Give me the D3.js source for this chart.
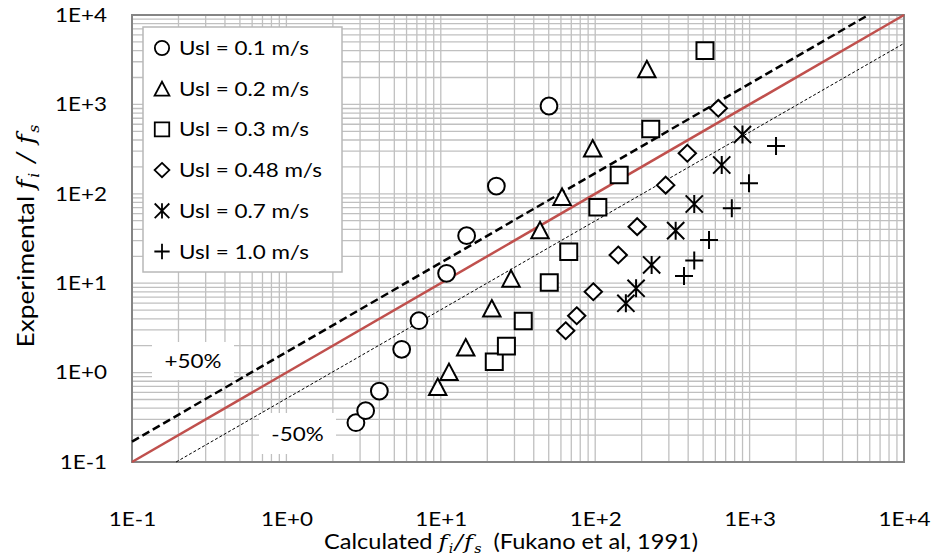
<!DOCTYPE html>
<html>
<head>
<meta charset="utf-8">
<script src="https://cdn.jsdelivr.net/npm/d3@7"></script>
<style>
  body { margin: 0; background: #fff; }
  text { font-family: Lato, "Open Sans", sans-serif; fill: #000; }
</style>
</head>
<body>
<script>
// Series values: [calculated, experimental]
var usl01 = [[2.82, 0.275], [3.26, 0.375], [4.0, 0.622], [5.58, 1.82], [7.22, 3.81],
             [10.9, 12.9], [14.7, 34.0], [22.9, 122], [50.2, 960]];
var usl02 = [[9.55, 0.695], [11.3, 1.02], [14.5, 1.92], [21.4, 5.24], [28.5, 11.3],
             [43.9, 39.4], [61.0, 92.8], [96.3, 323], [216, 2490]];
var usl03 = [[22.2, 1.32], [26.6, 1.98], [34.2, 3.78], [50.4, 10.2], [67.4, 22.5],
             [104, 70.6], [143, 162], [229, 531], [514, 3990]];
var usl048 = [[64.4, 2.94], [75.9, 4.33], [97.2, 8.03], [141, 20.7], [187, 42.9],
              [286, 125], [395, 284], [627, 904]];
var usl07 = [[158, 5.96], [184, 8.77], [232, 16.0], [332, 38.7], [438, 76.9],
             [660, 210], [899, 460]];
var usl10 = [[376, 12.0], [438, 17.9], [546, 30.4], [767, 68.9], [991, 131], [1483, 342]];

var seriesNames = ['Usl = 0.1 m/s', 'Usl = 0.2 m/s', 'Usl = 0.3 m/s',
                   'Usl = 0.48 m/s', 'Usl = 0.7 m/s', 'Usl = 1.0 m/s'];
var seriesData = [usl01, usl02, usl03, usl048, usl07, usl10];
var seriesSymbols = ['circle', 'triangle', 'square', 'diamond', 'asterisk', 'plus'];

// Reference lines (y = x and the +/-50% bands)
var equalLine = [[0.1, 0.1], [10000, 10000]];
var plusLine = [[0.1, 0.169], [5870, 10000]];
var minusLine = [[0.193, 0.1], [10000, 4820]];

var axisDomain = [0.1, 10000];
var majorTicks = [0.1, 1, 10, 100, 1000, 10000];

// Layout
var W = 931, H = 558;
var plot = {left: 132, right: 904, top: 15, bottom: 462};
var SX = 1.15; // text is drawn a bit wide, as in the picture

var svg = d3.select('body').append('svg')
    .attr('width', W).attr('height', H);

var x = d3.scaleLog().domain(axisDomain).range([plot.left, plot.right]);
var y = d3.scaleLog().domain(axisDomain).range([plot.bottom, plot.top]);

// All grid values: 1..9 in every decade
var gridVals = [];
majorTicks.slice(0, -1).forEach(function(d) {
    for (var k = 1; k < 10; k++) gridVals.push(d * k);
});
gridVals.push(10000);

var grid = svg.append('g').attr('stroke', '#c0c0c0').attr('stroke-width', 1.3);
grid.selectAll('.gx').data(gridVals).enter().append('line')
    .attr('x1', function(d) { return x(d); }).attr('x2', function(d) { return x(d); })
    .attr('y1', plot.top).attr('y2', plot.bottom);
grid.selectAll('.gy').data(gridVals).enter().append('line')
    .attr('y1', function(d) { return y(d); }).attr('y2', function(d) { return y(d); })
    .attr('x1', plot.left).attr('x2', plot.right);

// Plot border
svg.append('rect')
    .attr('x', plot.left).attr('y', plot.top)
    .attr('width', plot.right - plot.left).attr('height', plot.bottom - plot.top)
    .attr('fill', 'none').attr('stroke', '#858585').attr('stroke-width', 2);

// Axes labels
function fmt(d) {
    var e = Math.round(Math.log10(d));
    return '1E' + (e < 0 ? '-' : '+') + Math.abs(e);
}

var xAxis = d3.axisBottom(x).tickValues(majorTicks).tickFormat(fmt)
    .tickSize(0).tickPadding(50);
var yAxis = d3.axisLeft(y).tickValues(majorTicks).tickFormat(fmt)
    .tickSize(0).tickPadding(25 / SX);

svg.append('g').attr('transform', 'translate(0,' + plot.bottom + ')').call(xAxis)
    .call(function(g) { g.select('.domain').remove(); });
svg.append('g').attr('transform', 'translate(' + plot.left + ',0)').call(yAxis)
    .call(function(g) { g.select('.domain').remove(); });

svg.selectAll('.tick text')
    .attr('font-family', 'Lato, sans-serif')
    .attr('font-size', 19.5)
    .attr('fill', '#000')
    .attr('transform', 'scale(' + SX + ',1)');

// +/-50% label boxes
var labelBoxes = [
    {text: '+50%', x: 152, y: 342, w: 82, h: 38},
    {text: '-50%', x: 259, y: 413, w: 77, h: 41}
];
labelBoxes.forEach(function(b) {
    svg.append('rect').attr('x', b.x).attr('y', b.y).attr('width', b.w).attr('height', b.h)
        .attr('fill', '#fff');
});

// Reference lines
var line = d3.line()
    .x(function(d) { return x(d[0]); })
    .y(function(d) { return y(d[1]); });

svg.append('path').datum(plusLine).attr('d', line)
    .attr('fill', 'none').attr('stroke', '#000').attr('stroke-width', 2.5)
    .attr('stroke-dasharray', '8,4');
svg.append('path').datum(minusLine).attr('d', line)
    .attr('fill', 'none').attr('stroke', '#000').attr('stroke-width', 1)
    .attr('stroke-dasharray', '3,2');
svg.append('path').datum(equalLine).attr('d', line)
    .attr('fill', 'none').attr('stroke', '#c0504d').attr('stroke-width', 2.5);

labelBoxes.forEach(function(b) {
    svg.append('text')
        .attr('transform', 'translate(' + (b.x + b.w / 2) + ',' + (b.y + b.h / 2) + ') scale(' + SX + ',1)')
        .attr('text-anchor', 'middle').attr('dy', '0.36em')
        .attr('font-size', 19.5)
        .text(b.text);
});

// Marker shapes
function symbolPath(type, s) {
    var p = d3.path();
    if (type === 'circle') {
        p.arc(0, 0, 8.4 * s, 0, 2 * Math.PI);
    } else if (type === 'triangle') {
        p.moveTo(0, -8.2 * s); p.lineTo(8.7 * s, 8.2 * s); p.lineTo(-8.7 * s, 8.2 * s); p.closePath();
    } else if (type === 'square') {
        p.rect(-8.5 * s, -8.3 * s, 17 * s, 16.6 * s);
    } else if (type === 'diamond') {
        p.moveTo(0, -8.4 * s); p.lineTo(8.7 * s, 0); p.lineTo(0, 8.4 * s); p.lineTo(-8.7 * s, 0); p.closePath();
    } else if (type === 'asterisk') {
        p.moveTo(0, -9 * s); p.lineTo(0, 9 * s);
        p.moveTo(-8.6 * s, -8.6 * s); p.lineTo(8.6 * s, 8.6 * s);
        p.moveTo(-8.6 * s, 8.6 * s); p.lineTo(8.6 * s, -8.6 * s);
    } else if (type === 'plus') {
        p.moveTo(-9 * s, 0); p.lineTo(9 * s, 0);
        p.moveTo(0, -9 * s); p.lineTo(0, 9 * s);
    }
    return p.toString();
}

seriesData.forEach(function(data, i) {
    svg.append('g').selectAll('path')
        .data(data)
        .enter()
        .append('path')
        .attr('transform', function(d) { return 'translate(' + x(d[0]) + ',' + y(d[1]) + ')'; })
        .attr('d', symbolPath(seriesSymbols[i], 1))
        .attr('fill', '#fff')
        .attr('stroke', '#000')
        .attr('stroke-width', 2);
});

// Legend
var legend = svg.append('g');
legend.append('rect')
    .attr('x', 143).attr('y', 27).attr('width', 199).attr('height', 245)
    .attr('fill', '#fff').attr('stroke', '#b8b8b8').attr('stroke-width', 1.5);

var items = legend.selectAll('.item').data(seriesNames).enter().append('g')
    .attr('transform', function(d, i) { return 'translate(162,' + (48 + i * 40.7) + ')'; });
items.append('path')
    .attr('d', function(d, i) { return symbolPath(seriesSymbols[i], 0.85); })
    .attr('fill', '#fff').attr('stroke', '#000').attr('stroke-width', 1.8);
items.append('text')
    .attr('transform', 'translate(17,0) scale(' + SX + ',1)')
    .attr('dy', '0.36em')
    .attr('font-size', 19.5)
    .text(function(d) { return d; });

// Axis titles, with the math f in italic serif
function fRatio(t, sep) {
    var mathFont = '"DejaVu Serif", "Liberation Serif", serif';
    t.append('tspan').attr('font-family', mathFont).attr('font-style', 'italic').text('f');
    t.append('tspan').attr('font-family', mathFont).attr('font-style', 'italic')
        .attr('font-size', '0.6em').attr('dx', '0.1em').attr('dy', '0.35em').text('i');
    t.append('tspan').attr('font-family', mathFont).attr('font-style', 'italic')
        .attr('dx', '0.08em').attr('dy', '-0.21em').text(sep);
    t.append('tspan').attr('font-family', mathFont).attr('font-style', 'italic')
        .attr('dx', '0.04em').text('f');
    t.append('tspan').attr('font-family', mathFont).attr('font-style', 'italic')
        .attr('font-size', '0.6em').attr('dx', '0.1em').attr('dy', '0.35em').text('s');
}

var xTitle = svg.append('text')
    .attr('transform', 'translate(511,549) scale(' + SX + ',1)')
    .attr('text-anchor', 'middle')
    .attr('font-size', 20.5)
    .style('white-space', 'pre');
xTitle.append('tspan').text('Calculated ');
fRatio(xTitle, '/');
xTitle.append('tspan').attr('dy', '-0.21em').text('  (Fukano et al, 1991)');

var yTitle = svg.append('text')
    .attr('transform', 'translate(34,236) rotate(-90) scale(1.12,1)')
    .attr('text-anchor', 'middle')
    .attr('font-size', 23.5)
    .style('white-space', 'pre');
yTitle.append('tspan').text('Experimental ');
fRatio(yTitle, ' / ');
</script>
</body>
</html>
